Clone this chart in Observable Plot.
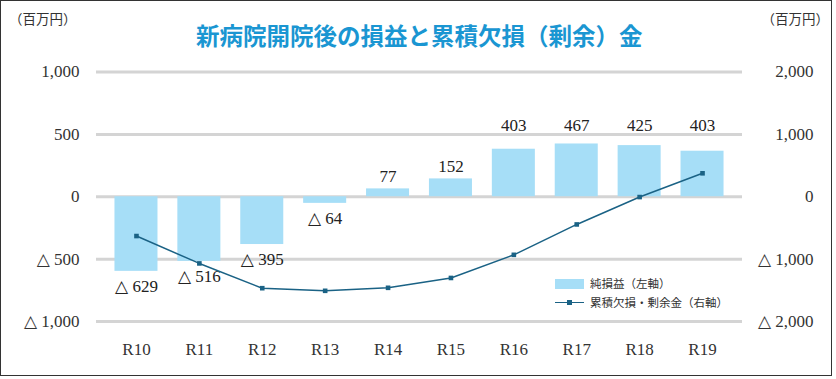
<!DOCTYPE html>
<html>
<head>
<meta charset="utf-8">
<script src="https://cdn.jsdelivr.net/npm/d3@7"></script>
<script src="https://cdn.jsdelivr.net/npm/@observablehq/plot@0.6"></script>
<style>
  body { margin: 0; background: #fff; }
  #wrap { position: relative; width: 832px; height: 376px; border: 1px solid #333; box-sizing: border-box; background: #fff; }
  #chart { position: absolute; left: 0; top: 53px; }
  .cjk { font-family: "Noto Sans CJK JP", "Noto Sans", sans-serif; position: absolute; white-space: nowrap; }
  #title { left: 195px; top: 23px; font-size: 23.5px; line-height: 1; font-weight: bold; color: #1a96d2; }
  .unit { top: 9px; font-size: 13.5px; line-height: 16px; color: #333; }
  .leg { font-size: 11.5px; line-height: 14px; color: #333; }
</style>
</head>
<body>
<div id="wrap">
  <div class="cjk unit" style="left:8px">（百万円）</div>
  <div class="cjk unit" style="right:2px">（百万円）</div>
  <div class="cjk" id="title">新病院開院後の損益と累積欠損（剰余）金</div>
  <div id="chart"></div>
  <div style="position:absolute;left:554px;top:278px;width:29px;height:10px;background:#a6def7"></div>
  <div class="cjk leg" style="left:589px;top:275px">純損益（左軸）</div>
  <div style="position:absolute;left:554px;top:300.5px;width:29px;height:1.5px;background:#1a6285"></div>
  <div style="position:absolute;left:566px;top:298.5px;width:5px;height:5px;background:#1a6285"></div>
  <div class="cjk leg" style="left:589px;top:294px">累積欠損・剰余金（右軸）</div>
</div>
<script>
// Data
const years = ["R10", "R11", "R12", "R13", "R14", "R15", "R16", "R17", "R18", "R19"];
const netBar = [-598, -518, -383, -53, 63, 143, 381, 423, 410, 365];      // bar heights as drawn (left axis)
const netLabel = [-629, -516, -395, -64, 77, 152, 403, 467, 425, 403];    // printed labels
const cumulative = [-630, -1069, -1466, -1508, -1460, -1302, -931, -444, -5, 376]; // right axis
const leftTicks = [-1000, -500, 0, 500, 1000];
const rightTicks = [-2000, -1000, 0, 1000, 2000];

const ratio = 2; // right axis units per left axis unit
const fmt = v => (v < 0 ? "△ " + d3.format(",")(-v) : d3.format(",")(v));
const rows = years.map((y, i) => ({year: y, bar: netBar[i], label: netLabel[i], cum: cumulative[i] / ratio}));
const topRow = 570; // left-axis level for the row of labels of tall bars

const serif = "'Liberation Serif', 'DejaVu Serif', serif";
const plot = Plot.plot({
  width: 830,
  height: 321,
  marginTop: 17.5,
  marginBottom: 54,
  marginLeft: 95,
  marginRight: 89,
  style: {fontFamily: serif, fontSize: "17px", color: "#333", background: "transparent", overflow: "visible"},
  x: {type: "band", domain: years, paddingInner: 0.316, paddingOuter: 0.2935, round: false, label: null},
  y: {domain: [-1000, 1000], label: null},
  marks: [
    Plot.ruleY(leftTicks, {stroke: "#d4d4d4", strokeWidth: 3}),
    Plot.barY(rows, {x: "year", y: "bar", fill: "#a6def7"}),
    Plot.axisX({anchor: "bottom", tickSize: 0, tickPadding: 21.5, fontSize: 17, label: null}),
    Plot.axisY({anchor: "left", ticks: leftTicks, tickSize: 0, tickPadding: 17, tickFormat: fmt, fontSize: 17, label: null}),
    Plot.axisY({anchor: "right", ticks: rightTicks.map(t => t / ratio), tickSize: 0, tickPadding: 71, textAnchor: "end",
      tickFormat: d => fmt(d * ratio), fontSize: 17, label: null}),
    Plot.text(rows.filter(d => d.bar > 0 && d.bar < 300), {x: "year", y: "bar", text: d => fmt(d.label), dy: -12, fill: "#222", fontSize: 17}),
    Plot.text(rows.filter(d => d.bar >= 300), {x: "year", y: () => topRow, text: d => fmt(d.label), fill: "#222", fontSize: 17}),
    Plot.text(rows.filter(d => d.bar < 0), {x: "year", y: "bar", text: d => fmt(d.label), dy: 15, fill: "#222", fontSize: 17}),
    Plot.line(rows, {x: "year", y: "cum", stroke: "#1a6285", strokeWidth: 1.5}),
    Plot.dot(rows, {x: "year", y: "cum", symbol: "square", r: 2.6, fill: "#1a6285"})
  ]
});
document.getElementById("chart").appendChild(plot);
</script>
</body>
</html>
